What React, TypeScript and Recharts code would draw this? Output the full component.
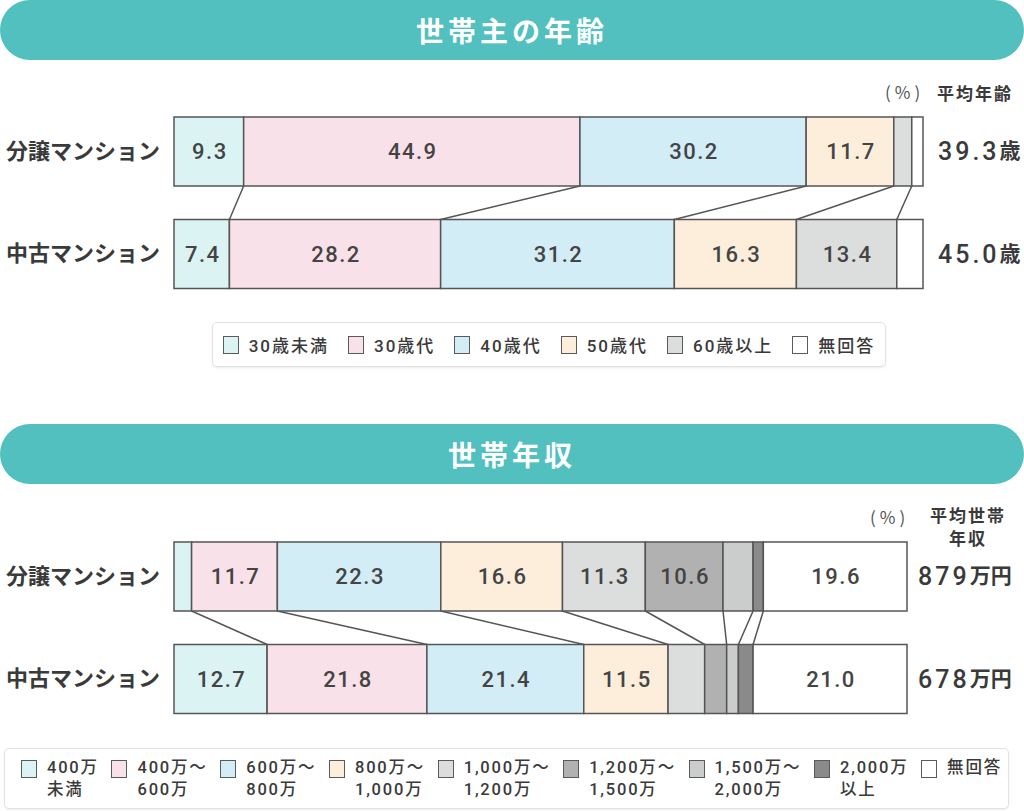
import React from "react";
import { BarChart, Bar, XAxis, YAxis, LabelList } from "recharts";

const FONT = "Roboto, 'Noto Sans CJK JP', sans-serif";
const TEXT = "#3a3a3a";
const EDGE = "#555";

// 世帯主の年齢
const housingTypes = ["分譲マンション", "中古マンション"];
const ageGroups = ["30歳未満", "30歳代", "40歳代", "50歳代", "60歳以上", "無回答"];
const ageBunjo = [9.3, 44.9, 30.2, 11.7, 2.4, 1.5];
const ageChuko = [7.4, 28.2, 31.2, 16.3, 13.4, 3.5];
const ageColors = ["#dbf4f3", "#f8e1e8", "#d3edf7", "#fdeedc", "#dcdddd", "#ffffff"];
const ageAverage = ["39.3", "45.0"];

// 世帯年収
const incomeGroups = [
  ["400万", "未満"],
  ["400万～", "600万"],
  ["600万～", "800万"],
  ["800万～", "1,000万"],
  ["1,000万～", "1,200万"],
  ["1,200万～", "1,500万"],
  ["1,500万～", "2,000万"],
  ["2,000万", "以上"],
  ["無回答"],
];
const incomeBunjo = [2.4, 11.7, 22.3, 16.6, 11.3, 10.6, 4.1, 1.4, 19.6];
const incomeChuko = [12.7, 21.8, 21.4, 11.5, 5.0, 3.0, 1.6, 2.0, 21.0];
const incomeColors = [
  "#dbf4f3", "#f8e1e8", "#d3edf7", "#fdeedc", "#dcdddd",
  "#b1b1b1", "#cbcccc", "#8a8a8a", "#ffffff",
];
const incomeAverage = ["879", "678"];

const toRows = (rows: number[][]) =>
  housingTypes.map((name, r) => {
    const row: Record<string, number | string> = { name };
    rows[r].forEach((v, i) => (row[`s${i}`] = v));
    return row;
  });

const ageData = toRows([ageBunjo, ageChuko]);
const incomeData = toRows([incomeBunjo, incomeChuko]);

// bar segment + connector line to the same boundary on the row above
const makeShape = (store: Record<string, any>, key: string, last: boolean) => (props: any) => {
  const { x, y, width, height, fill, index } = props;
  if (index === 0) store[key] = { x, y, width, height };
  const top = store[key];
  return (
    <g>
      <rect x={x} y={y} width={width} height={height} fill={fill} stroke={EDGE} strokeWidth={1.5} />
      {index === 1 && !last && top ? (
        <line
          x1={top.x + top.width}
          y1={top.y + top.height}
          x2={x + width}
          y2={y}
          stroke={EDGE}
          strokeWidth={1.5}
        />
      ) : null}
    </g>
  );
};

const renderValue = (props: any) => {
  const { x, y, width, height, value } = props;
  const v = Number(value);
  if (!(v >= 7)) return null;
  return (
    <text
      x={x + width / 2 + 1}
      y={y + height / 2}
      textAnchor="middle"
      dominantBaseline="central"
      fontFamily={FONT}
      fontSize={22}
      fontWeight={500}
      letterSpacing={1.5}
      fill="#444"
    >
      {v.toFixed(1)}
    </text>
  );
};

const LeftTick = (props: any) => {
  const { x, y, payload } = props;
  return (
    <text x={x} y={y} textAnchor="end" dominantBaseline="central" fontFamily={FONT} fontSize={22} fontWeight={700} fill={TEXT}>
      {payload.value}
    </text>
  );
};

const makeRightTick = (values: string[], unit: string, dx: number) => (props: any) => {
  const { x, y, payload } = props;
  const i = housingTypes.indexOf(payload.value);
  return (
    <text x={x + dx} y={y} textAnchor="start" dominantBaseline="central" fontFamily={FONT} fill={TEXT} fontWeight={500}>
      <tspan fontSize={25} letterSpacing={3}>{values[i]}</tspan>
      <tspan fontSize={21} fontWeight={700}>{unit}</tspan>
    </text>
  );
};

const Banner = ({ top, title }: { top: number; title: string }) => (
  <div
    style={{
      position: "absolute",
      left: 0,
      top,
      width: 1024,
      height: 60,
      borderRadius: 30,
      background: "#52c0bf",
      color: "#fff",
      fontFamily: FONT,
      fontWeight: 700,
      fontSize: 28,
      letterSpacing: 4,
      display: "flex",
      alignItems: "center",
      justifyContent: "center",
    }}
  >
    {title}
  </div>
);

const Swatch = ({ color }: { color: string }) => (
  <span
    style={{
      display: "inline-block",
      width: 14,
      height: 16,
      background: color,
      border: "1.5px solid #5a5a5a",
      flex: "none",
    }}
  />
);

const legendBox: React.CSSProperties = {
  position: "absolute",
  border: "1.5px solid #e2e2e2",
  borderRadius: 5,
  boxShadow: "0 1px 2px rgba(0,0,0,0.08)",
  display: "flex",
  alignItems: "center",
  fontFamily: FONT,
  color: TEXT,
  fontWeight: 500,
  boxSizing: "border-box",
};

const percentStyle: React.CSSProperties = {
  position: "absolute",
  fontFamily: "'Noto Sans CJK JP', sans-serif",
  fontSize: 17,
  letterSpacing: 4,
  color: "#555",
  lineHeight: "24px",
};

function StackChart({
  data,
  groups,
  colors,
  width,
  rightWidth,
  tick,
  store,
}: {
  data: Record<string, number | string>[];
  groups: unknown[];
  colors: string[];
  width: number;
  rightWidth: number;
  tick: (p: any) => React.ReactElement;
  store: Record<string, any>;
}) {
  return (
    <BarChart
      width={width}
      height={205}
      layout="vertical"
      data={data}
      barSize={69}
      margin={{ top: 0, right: 4, bottom: 0, left: 4 }}
    >
      <XAxis type="number" domain={[0, 100]} hide />
      <YAxis
        yAxisId="left"
        type="category"
        dataKey="name"
        width={170}
        axisLine={false}
        tickLine={false}
        tickSize={0}
        tickMargin={14}
        tick={LeftTick}
      />
      <YAxis
        yAxisId="right"
        orientation="right"
        type="category"
        dataKey="name"
        width={rightWidth}
        axisLine={false}
        tickLine={false}
        tickSize={0}
        tickMargin={0}
        tick={tick}
      />
      {groups.map((_, i) => (
        <Bar
          key={i}
          yAxisId="left"
          dataKey={`s${i}`}
          stackId="a"
          fill={colors[i]}
          isAnimationActive={false}
          shape={makeShape(store, `s${i}`, i === groups.length - 1)}
        >
          <LabelList dataKey={`s${i}`} content={renderValue} />
        </Bar>
      ))}
    </BarChart>
  );
}

const ageStore: Record<string, any> = {};
const incomeStore: Record<string, any> = {};

export default function App() {
  return (
    <div
      style={{
        position: "absolute",
        left: 0,
        top: 0,
        width: 1024,
        height: 811,
        background: "#fff",
        fontFamily: FONT,
        overflow: "hidden",
      }}
    >
      <Banner top={0} title="世帯主の年齢" />

      <div style={{ ...percentStyle, left: 885, top: 80 }}>(%)</div>
      <div style={{ position: "absolute", left: 937, top: 80, fontSize: 17, fontWeight: 700, color: TEXT, letterSpacing: 2 }}>
        平均年齢
      </div>

      <div style={{ position: "absolute", left: 0, top: 100 }}>
        <StackChart
          data={ageData}
          groups={ageGroups}
          colors={ageColors}
          width={1024}
          rightWidth={97}
          tick={makeRightTick(ageAverage, "歳", 15)}
          store={ageStore}
        />
      </div>

      <div style={{ ...legendBox, left: 212, top: 322, width: 674, height: 45, justifyContent: "center", gap: 19 }}>
        {ageGroups.map((g, i) => (
          <div key={g} style={{ display: "flex", alignItems: "center", gap: 10, fontSize: 17, letterSpacing: 2 }}>
            <Swatch color={ageColors[i]} />
            <span>{g}</span>
          </div>
        ))}
      </div>

      <Banner top={424} title="世帯年収" />

      <div style={{ ...percentStyle, left: 870, top: 505 }}>(%)</div>
      <div
        style={{
          position: "absolute",
          left: 918,
          top: 505,
          width: 100,
          textAlign: "center",
          fontSize: 17,
          lineHeight: "23px",
          fontWeight: 700,
          color: TEXT,
          letterSpacing: 2,
        }}
      >
        平均世帯
        <br />
        年収
      </div>

      <div style={{ position: "absolute", left: 0, top: 525 }}>
        <StackChart
          data={incomeData}
          groups={incomeGroups}
          colors={incomeColors}
          width={1024}
          rightWidth={113}
          tick={makeRightTick(incomeAverage, "万円", 11)}
          store={incomeStore}
        />
      </div>

      <div
        style={{
          ...legendBox,
          left: 4,
          top: 748,
          width: 1005,
          height: 61,
          justifyContent: "space-between",
          padding: "0 6px 0 16px",
        }}
      >
        {incomeGroups.map((g, i) => (
          <div key={i} style={{ display: "flex", alignItems: "flex-start", gap: 10, fontSize: 16.5, letterSpacing: 1.8 }}>
            <span style={{ marginTop: 3 }}>
              <Swatch color={incomeColors[i]} />
            </span>
            <span style={{ lineHeight: "22px", whiteSpace: "nowrap", marginBottom: g.length > 1 ? 0 : 22 }}>
              {g.map((line, k) => (
                <React.Fragment key={k}>
                  {k > 0 ? <br /> : null}
                  {line}
                </React.Fragment>
              ))}
            </span>
          </div>
        ))}
      </div>
    </div>
  );
}
